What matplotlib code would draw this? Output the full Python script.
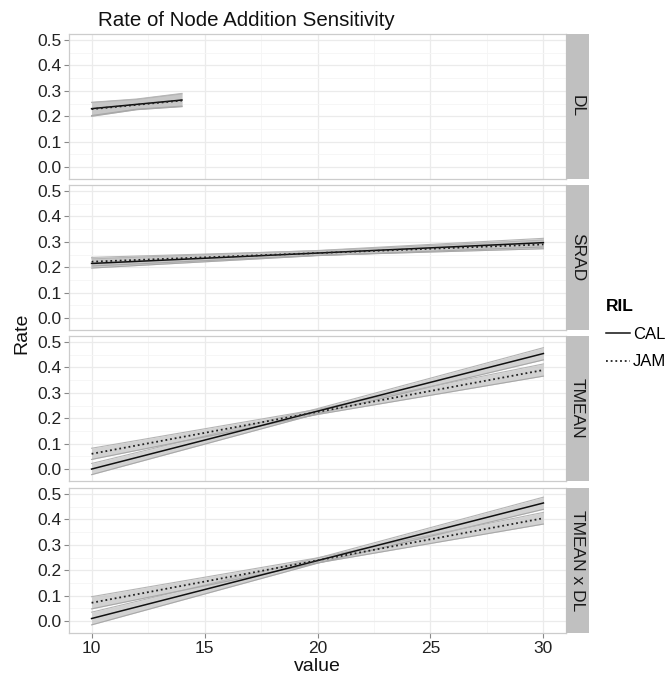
import matplotlib
matplotlib.use("Agg")
import matplotlib.pyplot as plt
from matplotlib.lines import Line2D

plt.rcParams['font.family'] = ['Liberation Sans', 'DejaVu Sans']

panels = ['DL', 'SRAD', 'TMEAN', 'TMEAN x DL']

# x positions of the fitted lines in each panel
x_vals = {
    'DL': [10, 12, 14],
    'SRAD': [10, 20, 30],
    'TMEAN': [10, 20, 30],
    'TMEAN x DL': [10, 20, 30],
}

# fitted rate, lower and upper band, per panel and RIL
cal_fit = {
    'DL': [0.230, 0.247, 0.264],
    'SRAD': [0.215, 0.256, 0.297],
    'TMEAN': [0.000, 0.228, 0.455],
    'TMEAN x DL': [0.010, 0.238, 0.465],
}
cal_lo = {
    'DL': [0.203, 0.228, 0.240],
    'SRAD': [0.197, 0.246, 0.280],
    'TMEAN': [-0.022, 0.218, 0.430],
    'TMEAN x DL': [-0.015, 0.228, 0.440],
}
cal_hi = {
    'DL': [0.255, 0.268, 0.290],
    'SRAD': [0.233, 0.266, 0.314],
    'TMEAN': [0.022, 0.238, 0.478],
    'TMEAN x DL': [0.035, 0.248, 0.488],
}
jam_fit = {
    'DL': [0.228, 0.245, 0.262],
    'SRAD': [0.222, 0.256, 0.290],
    'TMEAN': [0.060, 0.225, 0.390],
    'TMEAN x DL': [0.072, 0.239, 0.405],
}
jam_lo = {
    'DL': [0.200, 0.226, 0.238],
    'SRAD': [0.205, 0.247, 0.273],
    'TMEAN': [0.038, 0.215, 0.366],
    'TMEAN x DL': [0.048, 0.229, 0.382],
}
jam_hi = {
    'DL': [0.254, 0.266, 0.288],
    'SRAD': [0.239, 0.265, 0.307],
    'TMEAN': [0.082, 0.235, 0.414],
    'TMEAN x DL': [0.096, 0.249, 0.428],
}

x_ticks = [10, 15, 20, 25, 30]
y_ticks = [0.0, 0.1, 0.2, 0.3, 0.4, 0.5]

W, H = 672, 678
fig = plt.figure(figsize=(W / 100, H / 100), dpi=100)

left, right = 69, 566
strip_w = 23
tops = [34, 185, 336, 488]
ph = 145
grid_c = '#ebebeb'
dotted = (0, (1.0, 1.6))

for name, top in zip(panels, tops):
    ax = fig.add_axes([left / W, 1 - (top + ph) / H, (right - left) / W, ph / H])
    xs = x_vals[name]
    for lo, hi in [(cal_lo, cal_hi), (jam_lo, jam_hi)]:
        ax.fill_between(xs, lo[name], hi[name], color='#c4c4c4', alpha=0.75, lw=0, zorder=2)
        ax.plot(xs, lo[name], color='#a8a8a8', lw=0.8, zorder=3)
        ax.plot(xs, hi[name], color='#b5b5b5', lw=0.8, zorder=3)
    ax.plot(xs, cal_fit[name], color='#111111', lw=1.1, zorder=5)
    ax.plot(xs, jam_fit[name], color='#222222', lw=1.3, ls=dotted, zorder=5)

    ax.set_xlim(9, 31)
    ax.set_ylim(-0.047, 0.524)
    ax.set_xticks(x_ticks)
    ax.set_yticks(y_ticks)
    ax.set_xticks([12.5, 17.5, 22.5, 27.5], minor=True)
    ax.set_yticks([0.05, 0.15, 0.25, 0.35, 0.45], minor=True)
    ax.grid(which='major', color=grid_c, lw=0.9, zorder=0)
    ax.grid(which='minor', color='#f5f5f5', lw=0.6, zorder=0)
    ax.set_axisbelow(True)
    ax.set_yticklabels(['%.1f' % v for v in y_ticks])
    ax.tick_params(axis='both', which='major', length=3.5, width=0.8, color='#888888',
                   labelsize=12.5, labelcolor='#222222', pad=2)
    ax.tick_params(which='minor', length=0)
    for s in ax.spines.values():
        s.set_color('#cccccc')
        s.set_linewidth(0.9)
    if name != panels[-1]:
        ax.tick_params(axis='x', labelbottom=False, length=0)
    else:
        ax.set_xlabel('value', fontsize=14, labelpad=2, color='#111111')

    # facet strip
    sax = fig.add_axes([right / W, 1 - (top + ph) / H, strip_w / W, ph / H])
    sax.set_facecolor('#c0c0c0')
    sax.set_xticks([])
    sax.set_yticks([])
    for s in sax.spines.values():
        s.set_visible(False)
    sax.text(0.5, 0.5, name, rotation=-90, ha='center', va='center',
             fontsize=12.5, color='#1a1a1a', transform=sax.transAxes)

fig.text(22 / W, 1 - 333 / H, 'Rate', rotation=90, ha='center', va='center',
         fontsize=14, color='#111111')
fig.text(246 / W, 1 - 20 / H, 'Rate of Node Addition Sensitivity', ha='center', va='center',
         fontsize=14.8, color='#111111')

# legend
handles = [Line2D([], [], color='#111111', lw=1.1),
           Line2D([], [], color='#222222', lw=1.3, ls=dotted)]
leg = fig.legend(handles, ['CAL', 'JAM'], title='RIL', loc='upper left',
                 bbox_to_anchor=(603 / W, 1 - 296 / H), frameon=False,
                 fontsize=12, title_fontsize=12.5, handlelength=1.4,
                 handletextpad=0.2, labelspacing=0.75, borderaxespad=0,
                 borderpad=0.2)
leg.get_title().set_fontweight('bold')
leg._legend_box.align = 'left'

fig.savefig('out.png', dpi=100)
